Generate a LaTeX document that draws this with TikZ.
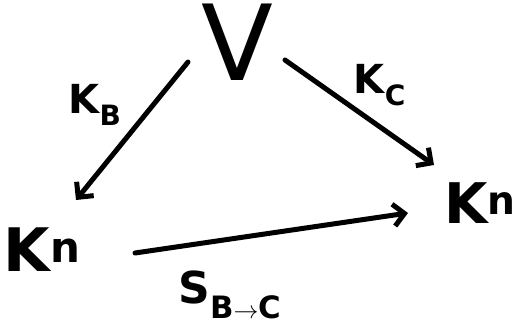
\documentclass[tikz,border=0pt]{standalone}
\usepackage{fontspec}
\setmainfont{DejaVu Sans}
\usetikzlibrary{arrows.meta}
\begin{document}
\begin{tikzpicture}[x=1pt,y=1pt,
  arr/.style={line width=5pt, line cap=round, -{Straight Barb[length=11pt,width=22pt,line width=5pt]}},
  lbl/.style={inner sep=0pt, font=\fontsize{40}{40}\selectfont\bfseries}]
\useasboundingbox (0,0) rectangle (517,325);
\node[inner sep=0pt, font=\fontsize{105}{105}\selectfont] (V) at (237,283) {V};
\node[inner sep=0pt, font=\fontsize{60}{60}\selectfont\bfseries] (L) at (42,75) {K$^{\mathbf n}$};
\node[inner sep=0pt, font=\fontsize{56}{56}\selectfont\bfseries] (R) at (480,122) {K$^{\mathbf n}$};
\coordinate (a1) at (188,263);
\coordinate (a2) at (76,125);
\coordinate (b1) at (285,265);
\coordinate (b2) at (434,160);
\coordinate (c1) at (135,72);
\coordinate (c2) at (408,112);
\draw[arr] (a1) -- (a2);
\draw[arr] (b1) -- (b2);
\draw[arr] (c1) -- (c2);
\node[lbl] (kb) at (95,220) {K$_{\mathbf B}$};
\node[lbl] (kc) at (380,240) {K$_{\mathbf C}$};
\node[lbl, font=\fontsize{44}{44}\selectfont\bfseries] (s) at (230,30) {S$_{\mathbf{B}\to\mathbf{C}}$};
\end{tikzpicture}
\end{document}
